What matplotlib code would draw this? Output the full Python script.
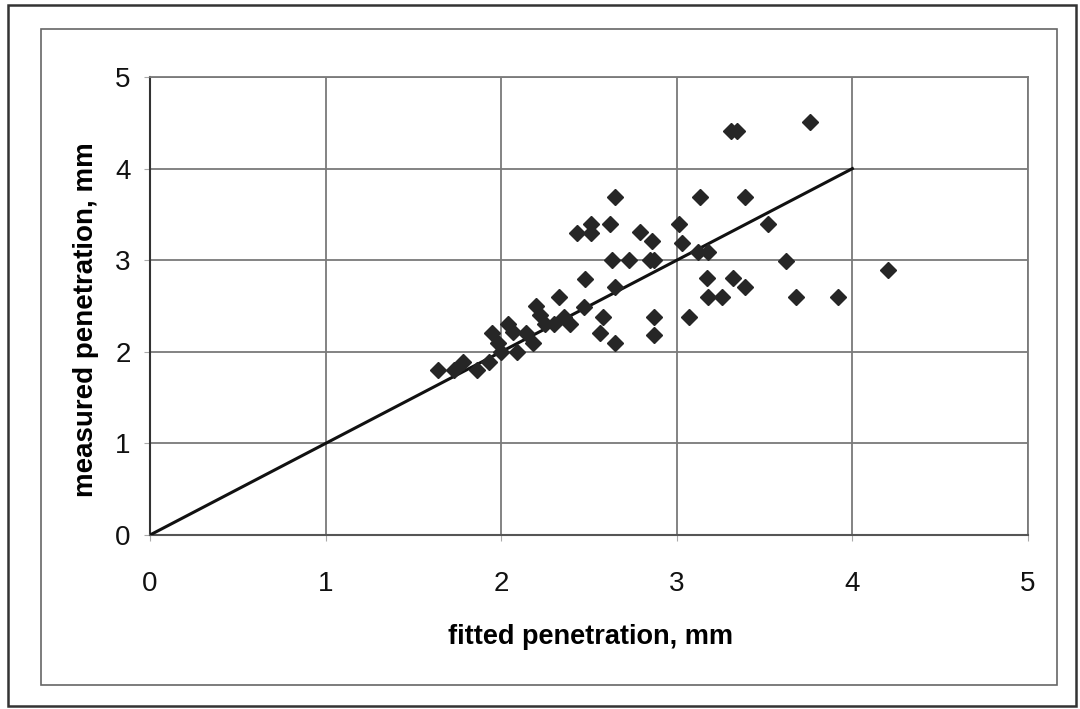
import matplotlib
matplotlib.use("Agg")
import matplotlib.pyplot as plt
from matplotlib.patches import Rectangle

plt.rcParams['font.family'] = ['Liberation Sans', 'DejaVu Sans']

fitted = [1.64, 1.73, 1.78, 1.86, 1.93, 1.95, 1.98, 2.00, 2.04, 2.07,
          2.09, 2.14, 2.18, 2.20, 2.22, 2.25, 2.30, 2.33, 2.36, 2.39,
          2.47, 2.48, 2.56, 2.58, 2.65, 2.65, 2.87, 2.87, 3.07,
          2.43, 2.51, 2.51, 2.62, 2.65, 2.63, 2.73, 2.79, 2.85, 2.87,
          2.86, 3.01, 3.03, 3.12, 3.18, 3.13, 3.39, 3.52, 3.62, 3.17,
          3.32, 3.39, 3.18, 3.26, 3.68, 3.92, 4.20, 3.31, 3.34, 3.76]
measured = [1.80, 1.80, 1.89, 1.80, 1.89, 2.20, 2.10, 2.00, 2.30, 2.22,
            2.00, 2.20, 2.10, 2.50, 2.40, 2.30, 2.30, 2.60, 2.38, 2.30,
            2.49, 2.80, 2.20, 2.38, 2.10, 2.71, 2.38, 2.18, 2.38,
            3.30, 3.40, 3.30, 3.40, 3.69, 3.00, 3.00, 3.31, 3.00, 3.00,
            3.21, 3.40, 3.19, 3.09, 3.09, 3.69, 3.69, 3.40, 2.99, 2.81,
            2.81, 2.71, 2.60, 2.60, 2.60, 2.60, 2.89, 4.41, 4.41, 4.51]
line_x = [0, 4]
line_y = [0, 4]
ticks = [0, 1, 2, 3, 4, 5]

fig = plt.figure(figsize=(10.8, 7.09), dpi=100)
# outer frames
fig.patches.append(Rectangle((8/1080, 1-706/709), 1068/1080, 701/709,
                             transform=fig.transFigure, fill=False,
                             edgecolor='#333333', linewidth=1.8))
fig.patches.append(Rectangle((41/1080, 1-685/709), 1016/1080, 656/709,
                             transform=fig.transFigure, fill=False,
                             edgecolor='#666666', linewidth=1.2))

ax = fig.add_axes([150/1080, 1-535/709, 878/1080, 458/709])
ax.set_xlim(0, 5)
ax.set_ylim(0, 5)
ax.set_xticks(ticks)
ax.set_yticks(ticks)
ax.grid(True, color='#7a7a7a', linewidth=1.3)
ax.set_axisbelow(True)
for s in ['top', 'right']:
    ax.spines[s].set_color('#7a7a7a')
    ax.spines[s].set_linewidth(1.3)
ax.spines['left'].set_color('#333333')
ax.spines['bottom'].set_color('#555555')
ax.spines['left'].set_linewidth(1.5)
ax.spines['bottom'].set_linewidth(1.5)
ax.tick_params(direction='out', length=4, color='#aaaaaa', labelsize=20,
               labelcolor='#111111')
ax.tick_params(axis='x', pad=22)
ax.tick_params(axis='y', pad=10)

ax.plot(line_x, line_y, color='#111111', linewidth=2.2, zorder=3)
ax.plot(fitted, measured, linestyle='none', marker='D', markersize=7.8,
        color='#262626', zorder=4)

ax.set_xlabel('fitted penetration, mm', fontsize=19.5, fontweight='bold')
ax.set_ylabel('measured penetration, mm', fontsize=20, fontweight='bold')
ax.xaxis.set_label_coords(0.502, -0.195)
ax.yaxis.set_label_coords(-0.058, 0.47)

fig.savefig('out.png', dpi=100)
